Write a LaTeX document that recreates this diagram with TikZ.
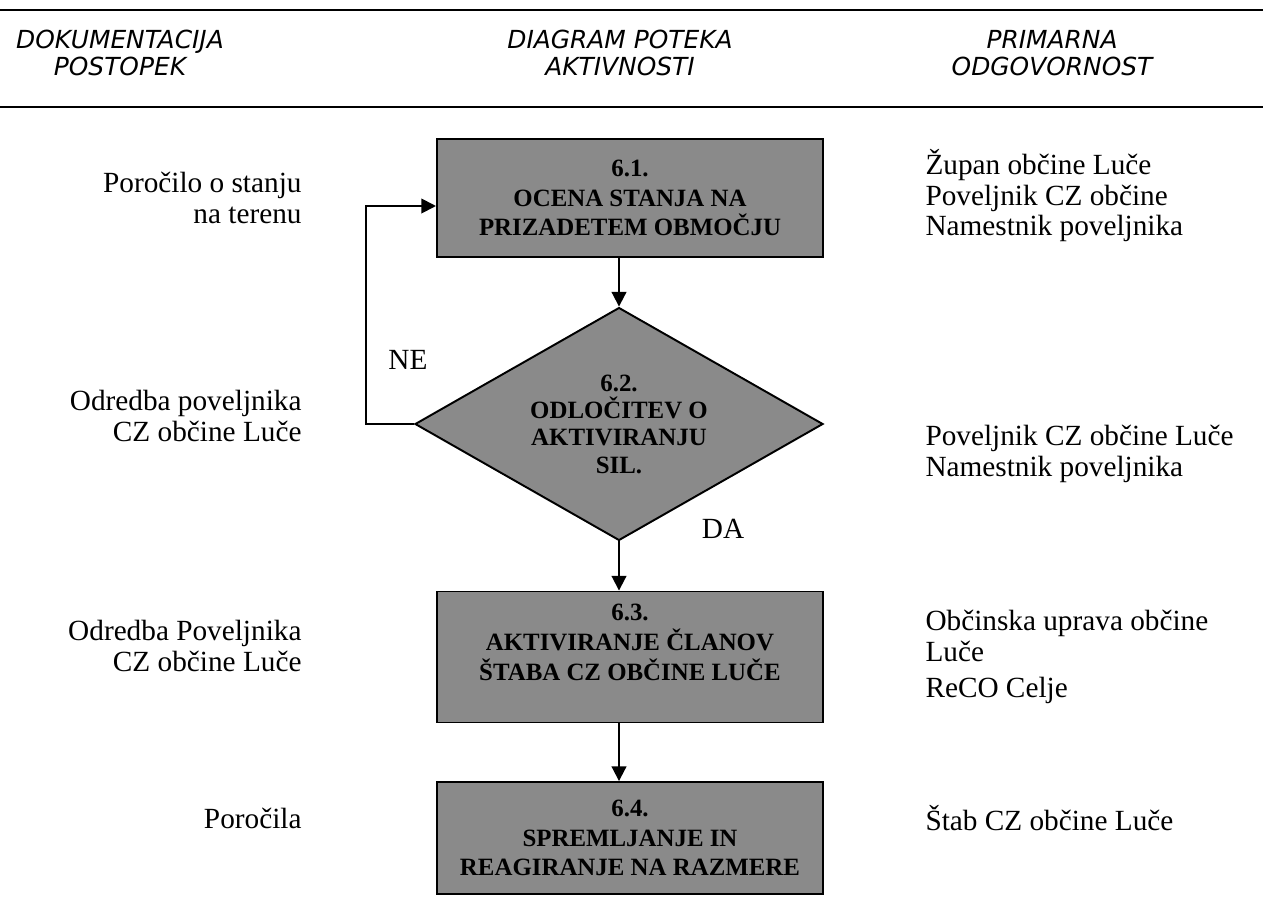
\documentclass[tikz,border=0pt]{standalone}
\usepackage{fontspec}
\setmainfont{Liberation Serif}
\newfontfamily\headfont{DejaVu Sans}
\usetikzlibrary{arrows.meta,shapes.geometric,positioning}
\definecolor{stepgrey}{gray}{0.54}
\tikzset{%
	stepbox/.style  = {draw, thick, rectangle, fill=stepgrey, minimum width=158.3pt, inner sep=2pt, align=center, font=\fontsize{10.2}{12.2}\selectfont\bfseries},
	decision/.style = {draw, thick, diamond, fill=stepgrey, aspect=1.75, minimum width=167.3pt, minimum height=95.5pt, inner sep=0pt, align=center, font=\fontsize{10.2}{11.2}\selectfont\bfseries},
	header/.style   = {align=center, font=\headfont\itshape\fontsize{10.2}{11}\selectfont},
	doc/.style      = {anchor=east, align=right, inner sep=0pt, font=\fontsize{12}{12.5}\selectfont}, % left column
	resp/.style     = {anchor=west, align=left, inner sep=0pt, font=\fontsize{12}{12.5}\selectfont}, % right column
	answer/.style   = {inner sep=0pt, font=\fontsize{12}{12.5}\selectfont},
	arrow/.style    = {thick, -{Triangle[length=6pt,width=6pt]}},
	rule/.style     = {line width=1.2pt},
}

\begin{document}
\begin{tikzpicture}[x=0.41pt,y=-0.41pt]
	\useasboundingbox (0,0) rectangle (1263,897);
	% header
	\draw[rule] (0,10) -- (1263,10);
	\draw[rule] (0,107) -- (1263,107);
	\node [header] (hdoc) at (120,53) {DOKUMENTACIJA\\POSTOPEK};
	\node [header] (hflow) at (620,53) {DIAGRAM POTEKA\\AKTIVNOSTI};
	\node [header] (hresp) at (1052,53) {PRIMARNA\\ODGOVORNOST};

	% flow
	\node [stepbox, minimum height=48.4pt] (b61) at (630,198) {6.1.\\OCENA STANJA NA\\PRIZADETEM OBMOČJU};
	\node [decision] (d62) at (619,424) {6.2.\\ODLOČITEV O\\AKTIVIRANJU\\SIL.};
	\node [stepbox, minimum height=53.7pt] (b63) at (630,657) {6.3.\\AKTIVIRANJE ČLANOV\\ŠTABA CZ OBČINE LUČE\\ \mbox{}};
	\node [stepbox, minimum height=45.9pt] (b64) at (630,838) {6.4.\\SPREMLJANJE IN\\REAGIRANJE NA RAZMERE};
	\coordinate (loop) at (366,206);

	\draw[arrow] (b61.south -| d62.north) -- (d62.north);
	\draw[arrow] (d62.south) -- (d62.south |- b63.north);
	\draw[arrow] (b63.south -| d62.south) -- (d62.south |- b64.north);
	\draw[arrow] (d62.west) -| (loop) -- (loop -| b61.west);
	\node [answer] (ne) at (408,360) {NE};
	\node [answer] (da) at (723,529) {DA};

	% documents
	\node [doc] (doc1) at (302,198) {Poročilo o stanju\\na terenu};
	\node [doc] (doc2) at (302,416) {Odredba poveljnika\\CZ občine Luče};
	\node [doc] (doc3) at (302,646) {Odredba Poveljnika\\CZ občine Luče};
	\node [doc] (doc4) at (302,818) {Poročila};

	% responsibility
	\node [resp] (resp1) at (925,196) {Župan občine Luče\\Poveljnik CZ občine\\Namestnik poveljnika};
	\node [resp] (resp2) at (925,454) {Poveljnik CZ občine Luče\\Namestnik poveljnika};
	\node [resp] (resp3) at (925,636) {Občinska uprava občine\\Luče};
	\node [resp] (resp4) at (925,690) {ReCO Celje};
	\node [resp] (resp5) at (925,818) {Štab CZ občine Luče};
\end{tikzpicture}
\end{document}
